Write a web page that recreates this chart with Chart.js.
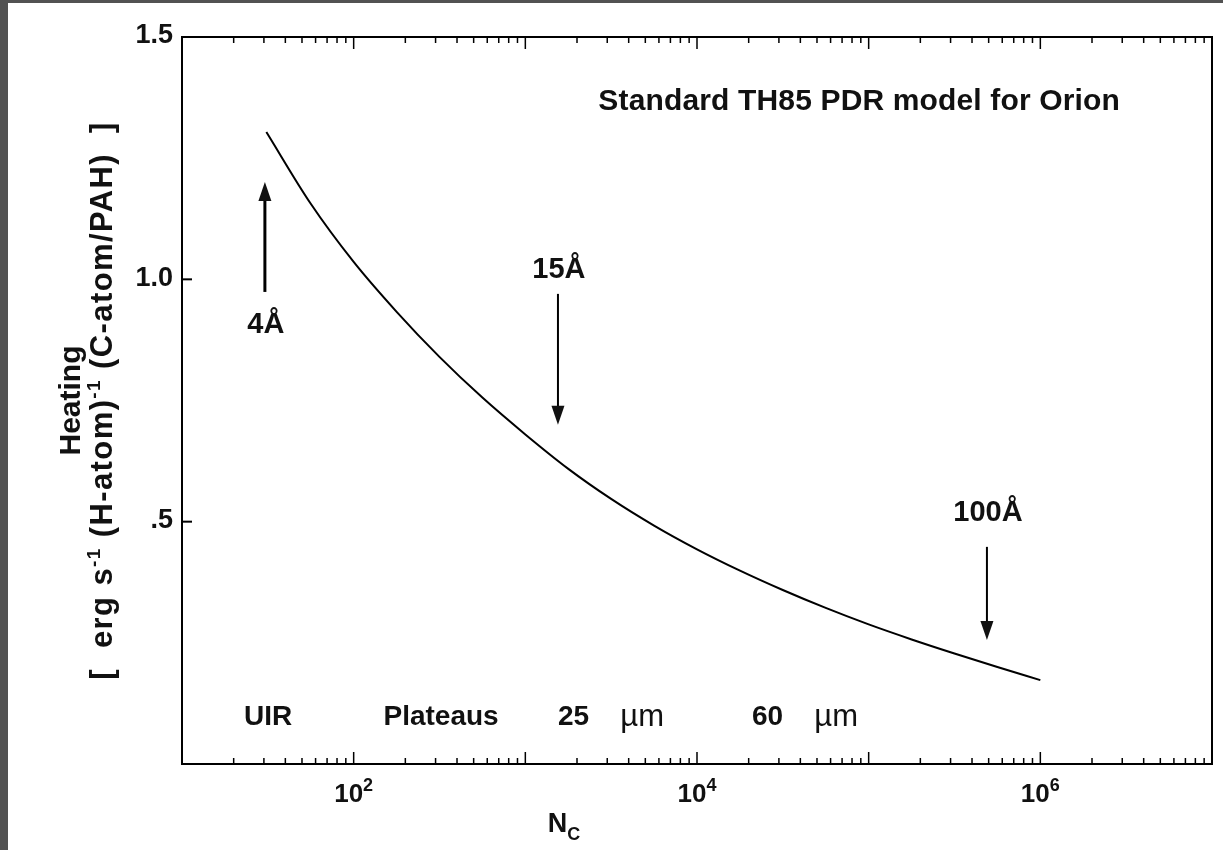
<!DOCTYPE html>
<html>
<head>
<meta charset="utf-8">
<script src="https://cdn.jsdelivr.net/npm/chart.js@4/dist/chart.umd.min.js"></script>
<style>
  html, body { margin: 0; padding: 0; background: #525252; overflow: hidden; }
  #wrap { position: absolute; left: 8px; top: 3px; width: 1215px; height: 847px; background: #fff; }
</style>
</head>
<body>
<div id="wrap"><canvas id="c"></canvas></div>
<script>
// Heating per carbon atom versus number of carbon atoms (TH85 PDR, Orion)
const carbonAtoms = [31, 56, 100, 178, 316, 562, 1000, 1780, 3160, 5620, 10000,
                     17800, 31600, 56200, 100000, 178000, 316000, 562000, 1000000];
const heatingRate = [1.304, 1.157, 1.036, 0.933, 0.840, 0.756, 0.680, 0.609, 0.547, 0.492, 0.443,
                     0.399, 0.359, 0.322, 0.288, 0.257, 0.228, 0.200, 0.173];

// Axis ticks
const xMajorTicks = [100, 10000, 1000000];
const xMajorExponents = ['2', '4', '6'];
const yTickValues = [0.5, 1.0, 1.5];
const yTickLabels = ['.5', '1.0', '1.5'];

// PAH size markers: label, carbon count, arrow tail, arrow tip, label level
const markerLabels = ['4Å', '15Å', '100Å'];
const markerCarbon = [30.4, 1549, 488600];
const markerTail = [0.974, 0.970, 0.448];
const markerTip = [1.201, 0.700, 0.256];
const markerLabelLevel = [0.905, 1.019, 0.518];

// Emission band row
const bandNumbers = ['', '', '25', '60'];
const bandWords = ['UIR', 'Plateaus', 'µm', 'µm'];
const bandCarbon = [31.7, 323, 3155, 42560];
const bandLevel = 0.097;

const FONT = "'Liberation Sans', Arial, Helvetica, sans-serif";
const bold = (px) => `bold ${px}px ${FONT}`;
const regular = (px) => `${px}px ${FONT}`;

function runsWidth(c, runs) {
  let w = 0;
  for (const r of runs) { c.font = r.font; w += c.measureText(r.t).width; }
  return w;
}
function drawRuns(c, runs, x, y, align) {
  const w = runsWidth(c, runs);
  let cx = align === 'center' ? x - w / 2 : align === 'right' ? x - w : x;
  c.textAlign = 'left';
  for (const r of runs) {
    c.font = r.font;
    c.fillText(r.t, cx, y + (r.dy || 0));
    cx += c.measureText(r.t).width;
  }
}
function arrow(c, x, y0, y1, lw, headLen, headHalf) {
  const dir = Math.sign(y1 - y0);
  c.lineWidth = lw;
  c.beginPath();
  c.moveTo(x, y0);
  c.lineTo(x, y1 - dir * headLen * 0.6);
  c.stroke();
  c.beginPath();
  c.moveTo(x, y1);
  c.lineTo(x - headHalf, y1 - dir * headLen);
  c.lineTo(x + headHalf, y1 - dir * headLen);
  c.closePath();
  c.fill();
}

const framePlugin = {
  id: 'framePlugin',
  afterDraw(chart) {
    const c = chart.ctx;
    const a = chart.chartArea;
    const xs = chart.scales.x, ys = chart.scales.y;
    c.save();
    c.strokeStyle = '#000';
    c.fillStyle = '#111';
    c.lineCap = 'butt';

    // Frame
    c.lineWidth = 2;
    c.strokeRect(a.left, a.top, a.right - a.left, a.bottom - a.top);

    // Log ticks on bottom and top edges, pointing inward
    c.lineWidth = 1.5;
    for (let k = 1; k <= 6; k++) {
      for (let m = 1; m <= 9; m++) {
        const v = m * Math.pow(10, k);
        if (v <= 10) continue;
        const px = xs.getPixelForValue(v);
        const len = m === 1 ? 12 : 6;
        c.beginPath();
        c.moveTo(px, a.bottom); c.lineTo(px, a.bottom - len);
        c.moveTo(px, a.top); c.lineTo(px, a.top + len);
        c.stroke();
      }
    }

    // Left ticks
    c.lineWidth = 2;
    yTickValues.forEach((v) => {
      const py = ys.getPixelForValue(v);
      c.beginPath();
      c.moveTo(a.left, py); c.lineTo(a.left + 10, py);
      c.stroke();
    });

    // Y tick labels
    c.textBaseline = 'middle';
    yTickValues.forEach((v, i) => {
      drawRuns(c, [{ t: yTickLabels[i], font: bold(27) }], a.left - 9, ys.getPixelForValue(v) - 1, 'right');
    });

    // X tick labels (powers of ten)
    c.textBaseline = 'alphabetic';
    xMajorTicks.forEach((v, i) => {
      drawRuns(c, [
        { t: '10', font: bold(26) },
        { t: xMajorExponents[i], font: bold(18), dy: -11 }
      ], xs.getPixelForValue(v), a.bottom + 38, 'center');
    });

    // X axis title N_C
    drawRuns(c, [
      { t: 'N', font: bold(27) },
      { t: 'C', font: bold(18), dy: 8 }
    ], a.left + 382, a.bottom + 68, 'center');

    // Y axis title, two rotated lines
    const midY = (a.top + a.bottom) / 2;
    c.save();
    c.translate(a.left - 102, midY);
    c.rotate(-Math.PI / 2);
    drawRuns(c, [{ t: 'Heating', font: bold(30) }], 0, 0, 'center');
    c.restore();
    c.save();
    c.translate(a.left - 70, midY);
    c.rotate(-Math.PI / 2);
    c.letterSpacing = '1.4px';
    drawRuns(c, [
      { t: '[  erg s', font: bold(31) },
      { t: '-1', font: bold(19), dy: -12 },
      { t: ' (H-atom)', font: bold(31) },
      { t: '-1', font: bold(19), dy: -12 },
      { t: ' (C-atom/PAH)  ]', font: bold(31) }
    ], 0, 0, 'center');
    c.letterSpacing = '0px';
    c.restore();

    // Panel title
    c.letterSpacing = '0.15px';
    drawRuns(c, [{ t: 'Standard TH85 PDR model for Orion', font: bold(30) }], a.right - 92, a.top + 73, 'right');
    c.letterSpacing = '0px';

    // Size markers with arrows
    markerLabels.forEach((lab, i) => {
      const px = xs.getPixelForValue(markerCarbon[i]);
      const lw = i === 0 ? 3 : 2;
      arrow(c, px, ys.getPixelForValue(markerTail[i]), ys.getPixelForValue(markerTip[i]), lw, 19, 6.5);
      c.textBaseline = 'middle';
      drawRuns(c, [{ t: lab, font: bold(29) }], px + 1, ys.getPixelForValue(markerLabelLevel[i]), 'center');
    });

    // Band labels
    c.textBaseline = 'middle';
    bandWords.forEach((w, i) => {
      const runs = bandNumbers[i]
        ? [{ t: bandNumbers[i] + '    ', font: bold(28) }, { t: w, font: regular(31) }]
        : [{ t: w, font: bold(28) }];
      drawRuns(c, runs, xs.getPixelForValue(bandCarbon[i]), ys.getPixelForValue(bandLevel), 'center');
    });

    c.restore();
  }
};

new Chart(document.getElementById('c'), {
  type: 'line',
  data: {
    datasets: [{
      data: carbonAtoms.map((n, i) => ({ x: n, y: heatingRate[i] })),
      borderColor: '#000',
      borderWidth: 2,
      pointRadius: 0,
      cubicInterpolationMode: 'monotone',
      fill: false
    }]
  },
  options: {
    responsive: true,
    maintainAspectRatio: false,
    animation: false,
    layout: { padding: { left: 174, top: 34, right: 11, bottom: 86 } },
    plugins: { legend: { display: false }, tooltip: { enabled: false } },
    scales: {
      x: { type: 'logarithmic', min: 10, max: 1e7, display: false },
      y: { type: 'linear', min: 0, max: 1.5, display: false }
    }
  },
  plugins: [framePlugin]
});
</script>
</body>
</html>
